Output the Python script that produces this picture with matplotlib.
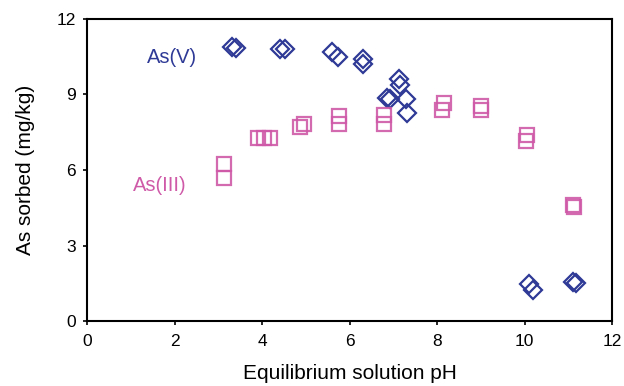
import matplotlib
matplotlib.use("Agg")
import matplotlib.pyplot as plt

plt.rcParams['font.family'] = ['Liberation Sans', 'DejaVu Sans']

# As(V) data
ph_v = [3.30, 3.40, 4.40, 4.52, 5.60, 5.72, 6.30, 6.31, 7.12, 7.16, 6.86, 6.91, 7.28, 7.32, 10.11, 10.19, 11.10, 11.18]
as_v = [10.89, 10.86, 10.79, 10.79, 10.70, 10.47, 10.42, 10.22, 9.62, 9.36, 8.85, 8.81, 8.81, 8.27, 1.46, 1.23, 1.56, 1.52]

# As(III) data
ph_iii = [3.12, 3.12, 3.90, 4.04, 4.18, 4.87, 4.96, 5.76, 5.76, 6.79, 6.79, 8.16, 8.10, 9.00, 9.00, 10.06, 10.02, 11.10, 11.12]
as_iii = [6.22, 5.70, 7.26, 7.26, 7.26, 7.70, 7.82, 8.15, 7.82, 8.20, 7.84, 8.66, 8.40, 8.55, 8.38, 7.38, 7.14, 4.60, 4.52]

xticks = [0, 2, 4, 6, 8, 10, 12]
yticks = [0, 3, 6, 9, 12]

blue = '#2e3a96'
pink = '#cf5aa8'

fig = plt.figure(figsize=(6.24, 3.86), dpi=100)
ax = fig.add_axes([0.140, 0.168, 0.841, 0.783])

ax.plot(ph_v, as_v, linestyle='none', marker='D', ms=9, mfc='none',
        mec=blue, mew=1.6)
ax.plot(ph_iii, as_iii, linestyle='none', marker='s', ms=9.5, mfc='none',
        mec=pink, mew=1.6, alpha=0.9)

ax.text(1.37, 10.45, 'As(V)', color=blue, fontsize=14.5, ha='left', va='center')
ax.text(1.05, 5.4, 'As(III)', color=pink, fontsize=14.5, ha='left', va='center')

ax.set_xlim(0, 12)
ax.set_ylim(0, 12)
ax.set_xticks(xticks)
ax.set_yticks(yticks)
ax.tick_params(direction='out', length=3, width=1.2, labelsize=12.5)
ax.tick_params(axis='x', pad=6)
ax.tick_params(axis='y', pad=5)
for s in ax.spines.values():
    s.set_linewidth(1.5)

ax.set_xlabel('Equilibrium solution pH', fontsize=15, labelpad=11)
ax.set_ylabel('As sorbed (mg/kg)', fontsize=15, labelpad=16)

fig.savefig('out.png', dpi=100)
